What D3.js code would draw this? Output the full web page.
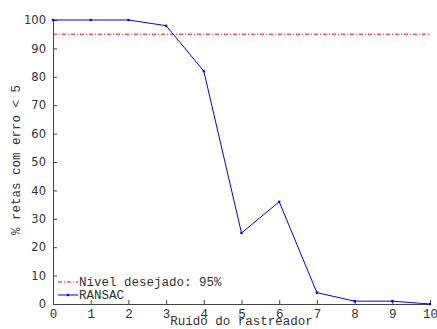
<!DOCTYPE html>
<html>
<head>
<meta charset="utf-8">
<script src="https://cdn.jsdelivr.net/npm/d3@7"></script>
<style>
  body { margin: 0; background: #fff; }
  text { fill: #333; }
</style>
</head>
<body>
<div id="chart"></div>
<script>
let ruido = [0, 1, 2, 3, 4, 5, 6, 7, 8, 9, 10];
let ransac = [100, 100, 100, 98, 82, 25, 36, 4, 1, 1, 0];
let nivelDesejado = 95;
let yTicks = [0, 10, 20, 30, 40, 50, 60, 70, 80, 90, 100];
let legendLabels = ["Nível desejado: 95%", "RANSAC"];

let svgWidth = 437;
let svgHeight = 329;
let margin = { top: 20, right: 7, bottom: 25, left: 53 };
let width = svgWidth - margin.left - margin.right;
let height = svgHeight - margin.top - margin.bottom;

let svg = d3.select("#chart")
    .append("svg")
    .attr("width", svgWidth)
    .attr("height", svgHeight);

let chartGroup = svg.append("g")
    .attr("transform", `translate(${margin.left}, ${margin.top})`);

let xScale = d3.scaleLinear().domain([0, 10]).range([0, width]);
let yScale = d3.scaleLinear().domain([0, 100]).range([height, 0]);

let mono = "'Liberation Mono', 'DejaVu Sans Mono', monospace";

// eixos
let bottomAxis = d3.axisBottom(xScale).tickValues(ruido).tickSize(-4).tickPadding(8);
let leftAxis = d3.axisLeft(yScale).tickValues(yTicks).tickSize(-4).tickPadding(7);

let xg = chartGroup.append("g")
    .attr("transform", `translate(0, ${height})`)
    .call(bottomAxis);
xg.selectAll("text")
    .style("font-family", mono)
    .style("font-size", "12.5px")
    .attr("dy", "0.45em");

let yg = chartGroup.append("g").call(leftAxis);
yg.selectAll("text")
    .style("font-family", "'DejaVu Sans', sans-serif")
    .style("font-size", "11.5px");

[xg, yg].forEach(g => {
    g.select(".domain").attr("stroke", "#444").attr("stroke-width", 1);
    g.selectAll(".tick line").attr("stroke", "#444");
});

// nivel desejado
chartGroup.append("line")
    .attr("x1", xScale(0))
    .attr("x2", xScale(10))
    .attr("y1", yScale(nivelDesejado))
    .attr("y2", yScale(nivelDesejado))
    .attr("stroke", "red")
    .attr("stroke-width", 1)
    .attr("stroke-dasharray", "4,2,1,2");

// RANSAC
let pts = ruido.map((r, i) => [r, ransac[i]]);
chartGroup.append("path")
    .datum(pts)
    .attr("fill", "none")
    .attr("stroke", "blue")
    .attr("stroke-width", 1)
    .attr("d", d3.line().x(d => xScale(d[0])).y(d => yScale(d[1])));

chartGroup.selectAll(".pt")
    .data(pts)
    .enter()
    .append("circle")
    .attr("class", "pt")
    .attr("cx", d => xScale(d[0]))
    .attr("cy", d => yScale(d[1]))
    .attr("r", 1.3)
    .attr("fill", "blue");

// legenda
let legend = chartGroup.append("g")
    .attr("transform", `translate(5, ${height - 22})`);
let legendStyles = [
    { stroke: "red", dash: "4,2,1,2", dot: false },
    { stroke: "blue", dash: null, dot: true }
];
legendLabels.forEach((lab, i) => {
    let row = legend.append("g").attr("transform", `translate(0, ${i * 13})`);
    row.append("line")
        .attr("x1", 0).attr("x2", 20)
        .attr("y1", 0).attr("y2", 0)
        .attr("stroke", legendStyles[i].stroke)
        .attr("stroke-dasharray", legendStyles[i].dash);
    if (legendStyles[i].dot) {
        row.append("circle").attr("cx", 10).attr("cy", 0).attr("r", 1.3).attr("fill", "blue");
    }
    row.append("text")
        .attr("x", 21)
        .attr("y", 0)
        .attr("dy", "0.35em")
        .style("font-family", mono)
        .style("font-size", "12.5px")
        .text(lab);
});

// rotulos
chartGroup.append("text")
    .attr("transform", "rotate(-90)")
    .attr("x", -height / 2 + 2)
    .attr("y", -33)
    .attr("text-anchor", "middle")
    .style("font-family", mono)
    .style("font-size", "12.5px")
    .text("% retas com erro < 5");

chartGroup.append("text")
    .attr("x", width / 2)
    .attr("y", height + 21)
    .attr("text-anchor", "middle")
    .style("font-family", mono)
    .style("font-size", "12.5px")
    .text("Ruído do rastreador");
</script>
</body>
</html>
